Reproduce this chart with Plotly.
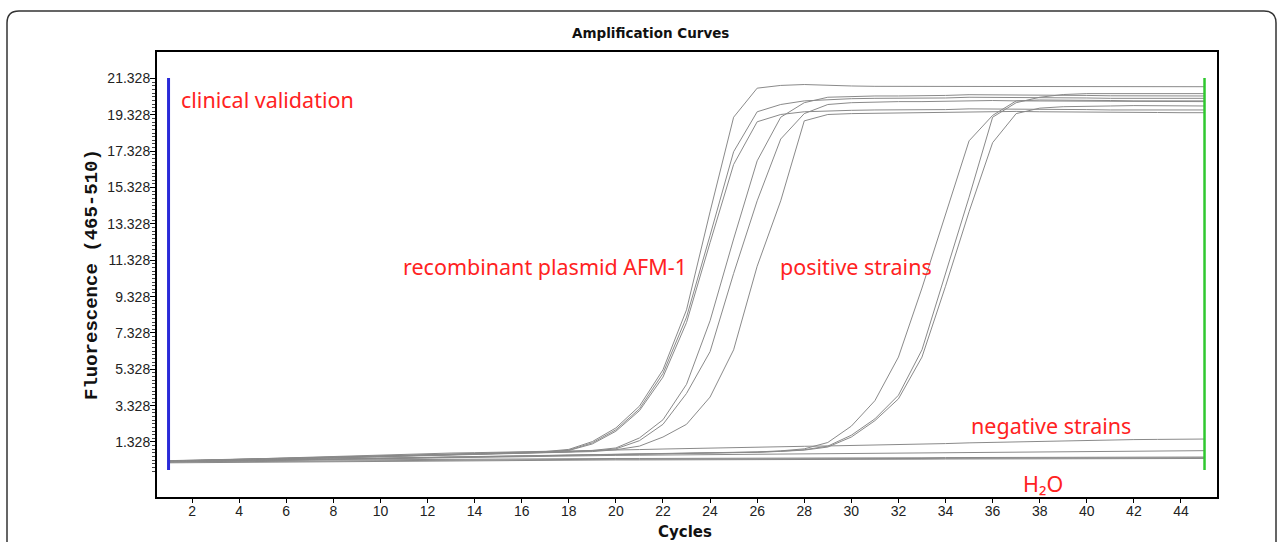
import plotly.graph_objects as go

cycles = list(range(1, 46))

# recombinant plasmid AFM-1 curves
curve_a = [0.30, 0.32, 0.35, 0.38, 0.41, 0.44, 0.47, 0.50, 0.53, 0.56, 0.59, 0.62, 0.65, 0.68, 0.71, 0.75, 0.80,
           0.92, 1.35, 2.10, 3.30, 5.30, 8.60, 14.00, 19.20, 20.80, 20.95, 21.00, 20.95, 20.92, 20.90, 20.90, 20.88,
           20.88, 20.92, 20.92, 20.90, 20.90, 20.88, 20.88, 20.90, 20.90, 20.88, 20.88, 20.88]
curve_b = [0.29, 0.31, 0.34, 0.37, 0.40, 0.43, 0.46, 0.49, 0.52, 0.55, 0.58, 0.61, 0.64, 0.67, 0.70, 0.73, 0.77,
           0.88, 1.28, 2.00, 3.15, 5.10, 8.20, 12.70, 17.30, 19.50, 19.90, 20.10, 20.18, 20.22, 20.24, 20.24, 20.24,
           20.26, 20.30, 20.30, 20.28, 20.28, 20.26, 20.26, 20.24, 20.24, 20.24, 20.24, 20.24]
curve_c = [0.28, 0.30, 0.33, 0.36, 0.39, 0.42, 0.45, 0.48, 0.51, 0.54, 0.57, 0.60, 0.63, 0.66, 0.69, 0.72, 0.76,
           0.86, 1.22, 1.92, 3.05, 4.90, 7.90, 12.30, 16.60, 18.95, 19.35, 19.50, 19.55, 19.58, 19.60, 19.60, 19.60,
           19.62, 19.66, 19.66, 19.64, 19.64, 19.62, 19.62, 19.60, 19.60, 19.60, 19.60, 19.60]
curve_d = [0.27, 0.29, 0.32, 0.35, 0.38, 0.41, 0.44, 0.47, 0.50, 0.53, 0.56, 0.59, 0.62, 0.65, 0.68, 0.71, 0.74,
           0.78, 0.86, 1.00, 1.55, 2.55, 4.50, 8.00, 12.50, 16.80, 19.20, 20.00, 20.30, 20.35, 20.37, 20.37, 20.37,
           20.40, 20.44, 20.44, 20.42, 20.42, 20.40, 20.40, 20.38, 20.38, 20.37, 20.37, 20.37]
curve_e = [0.26, 0.28, 0.31, 0.34, 0.37, 0.40, 0.43, 0.46, 0.49, 0.52, 0.55, 0.58, 0.61, 0.64, 0.67, 0.70, 0.73,
           0.77, 0.83, 0.95, 1.40, 2.30, 4.00, 6.30, 10.60, 14.60, 18.00, 19.40, 19.90, 20.00, 20.04, 20.06, 20.06,
           20.08, 20.12, 20.12, 20.10, 20.10, 20.08, 20.08, 20.06, 20.06, 20.06, 20.06, 20.06]
curve_f = [0.26, 0.28, 0.30, 0.33, 0.36, 0.39, 0.42, 0.45, 0.48, 0.51, 0.54, 0.57, 0.60, 0.63, 0.66, 0.69, 0.72,
           0.75, 0.80, 0.90, 1.10, 1.60, 2.30, 3.80, 6.40, 11.00, 14.60, 19.00, 19.35, 19.40, 19.42, 19.44, 19.45,
           19.45, 19.48, 19.52, 19.52, 19.50, 19.50, 19.48, 19.48, 19.46, 19.46, 19.45, 19.45]

# positive strains
pos_1 = [0.25, 0.27, 0.29, 0.31, 0.33, 0.35, 0.37, 0.39, 0.41, 0.43, 0.45, 0.47, 0.49, 0.51, 0.53, 0.55, 0.57,
         0.59, 0.61, 0.63, 0.65, 0.67, 0.69, 0.71, 0.74, 0.78, 0.84, 0.95, 1.30, 2.20, 3.60, 6.00, 9.80,
         13.80, 17.90, 19.30, 20.10, 20.15, 20.15, 20.12, 20.12, 20.10, 20.10, 20.10, 20.10]
pos_2 = [0.24, 0.26, 0.28, 0.30, 0.32, 0.34, 0.36, 0.38, 0.40, 0.42, 0.44, 0.46, 0.48, 0.50, 0.52, 0.54, 0.56,
         0.58, 0.60, 0.62, 0.64, 0.66, 0.68, 0.70, 0.73, 0.77, 0.82, 0.90, 1.10, 1.70, 2.60, 3.90, 6.40,
         10.60, 14.80, 19.20, 20.00, 20.30, 20.45, 20.50, 20.50, 20.52, 20.52, 20.50, 20.50]
pos_3 = [0.23, 0.25, 0.27, 0.29, 0.31, 0.33, 0.35, 0.37, 0.39, 0.41, 0.43, 0.45, 0.47, 0.49, 0.51, 0.53, 0.55,
         0.57, 0.59, 0.61, 0.63, 0.65, 0.67, 0.69, 0.72, 0.76, 0.81, 0.88, 1.05, 1.60, 2.50, 3.70, 6.00,
         9.90, 14.00, 17.80, 19.40, 19.70, 19.78, 19.82, 19.82, 19.84, 19.84, 19.82, 19.82]

# negative strains
neg_1 = [0.26, 0.30, 0.34, 0.38, 0.42, 0.46, 0.50, 0.54, 0.58, 0.62, 0.66, 0.70, 0.72, 0.74, 0.76, 0.78, 0.80,
         0.82, 0.85, 0.88, 0.91, 0.94, 0.97, 1.00, 1.03, 1.05, 1.07, 1.09, 1.11, 1.13, 1.15, 1.17, 1.20,
         1.24, 1.28, 1.31, 1.34, 1.37, 1.40, 1.42, 1.44, 1.46, 1.47, 1.48, 1.49]
neg_2 = [0.24, 0.26, 0.29, 0.31, 0.33, 0.35, 0.37, 0.39, 0.41, 0.43, 0.45, 0.46, 0.48, 0.50, 0.52, 0.54, 0.55,
         0.57, 0.58, 0.59, 0.60, 0.61, 0.62, 0.63, 0.64, 0.66, 0.67, 0.68, 0.69, 0.70, 0.71, 0.72, 0.73,
         0.74, 0.75, 0.77, 0.78, 0.79, 0.80, 0.80, 0.81, 0.82, 0.83, 0.84, 0.85]

# H2O / blank
h2o_1 = [0.22, 0.23, 0.25, 0.26, 0.27, 0.28, 0.29, 0.30, 0.31, 0.32, 0.33, 0.33, 0.34, 0.35, 0.35, 0.36, 0.36,
         0.37, 0.37, 0.38, 0.38, 0.38, 0.39, 0.39, 0.40, 0.40, 0.40, 0.41, 0.41, 0.41, 0.42, 0.42, 0.42,
         0.43, 0.43, 0.43, 0.44, 0.44, 0.44, 0.44, 0.45, 0.45, 0.45, 0.45, 0.46]
h2o_2 = [0.18, 0.19, 0.21, 0.22, 0.23, 0.24, 0.25, 0.26, 0.27, 0.28, 0.29, 0.29, 0.30, 0.31, 0.31, 0.32, 0.32,
         0.33, 0.33, 0.34, 0.34, 0.34, 0.35, 0.35, 0.36, 0.36, 0.36, 0.37, 0.37, 0.37, 0.38, 0.38, 0.38,
         0.39, 0.39, 0.39, 0.40, 0.40, 0.40, 0.40, 0.41, 0.41, 0.41, 0.41, 0.42]
h2o_3 = [0.25, 0.27, 0.29, 0.30, 0.31, 0.32, 0.33, 0.34, 0.35, 0.36, 0.37, 0.37, 0.38, 0.39, 0.39, 0.40, 0.40,
         0.41, 0.41, 0.42, 0.42, 0.42, 0.43, 0.43, 0.44, 0.44, 0.44, 0.45, 0.45, 0.45, 0.46, 0.46, 0.46,
         0.47, 0.47, 0.47, 0.48, 0.48, 0.48, 0.48, 0.49, 0.49, 0.49, 0.50, 0.50]

x_ticks = [2, 4, 6, 8, 10, 12, 14, 16, 18, 20, 22, 24, 26, 28, 30, 32, 34, 36, 38, 40, 42, 44]
y_tick_values = [1.328, 3.328, 5.328, 7.328, 9.328, 11.328, 13.328, 15.328, 17.328, 19.328, 21.328]
y_tick_labels = ["1.328", "3.328", "5.328", "7.328", "9.328", "11.328", "13.328", "15.328", "17.328",
                 "19.328", "21.328"]

label_texts = ["clinical validation", "recombinant plasmid AFM-1", "positive strains", "negative strains", "H\u2082O"]
label_x = [1.44, 10.87, 26.88, 34.99, 37.20]
label_y = [20.20, 11.01, 11.01, 2.21, -0.98]

all_curves = [curve_a, curve_b, curve_c, curve_d, curve_e, curve_f, pos_1, pos_2, pos_3,
              neg_1, neg_2, h2o_1, h2o_2, h2o_3]

fig = go.Figure()
for vals in all_curves:
    fig.add_trace(go.Scatter(x=cycles, y=vals, mode="lines",
                             line=dict(color="#8a8a8a", width=1),
                             showlegend=False, hoverinfo="skip"))

# pixel helpers for paper coordinates (plot area: x 157..1217, y 52..497)
def px(xp):
    return (xp - 157) / 1060.0

def py(yp):
    return (497 - yp) / 445.0

minor_vals = []
v = -0.272
while v < 21.2:
    if all(abs(v - t) > 0.01 for t in y_tick_values):
        minor_vals.append(round(v, 3))
    v += 0.2

tick_font = dict(family="Liberation Sans Narrow, Liberation Sans, Arial", size=14, color="#222222")

fig.update_layout(
    width=1282, height=542,
    margin=dict(l=157, r=65, t=52, b=45),
    paper_bgcolor="white", plot_bgcolor="white",
    xaxis=dict(range=[0.51, 45.53], tickmode="array", tickvals=x_ticks,
               ticks="outside", ticklen=4, tickcolor="black", ticklabelstandoff=-4,
               showline=True, linecolor="black", linewidth=2, mirror=True,
               showgrid=False, zeroline=False, tickfont=tick_font),
    yaxis=dict(range=[-1.70, 22.79], tickmode="array", tickvals=y_tick_values, ticktext=y_tick_labels,
               ticks="outside", ticklen=5, tickcolor="black", ticklabelstandoff=-3,
               minor=dict(tickmode="array", tickvals=minor_vals, ticks="outside", ticklen=3,
                          tickcolor="#444444", showgrid=False),
               showline=True, linecolor="black", linewidth=2, mirror=True,
               showgrid=False, zeroline=False, tickfont=tick_font),
)

# blue and green vertical markers
fig.add_shape(type="line", xref="x", yref="y", x0=1, x1=1, y0=-0.21, y1=21.36,
              line=dict(color="#2a2ad8", width=3))
fig.add_shape(type="line", xref="x", yref="y", x0=45, x1=45, y0=-0.21, y1=21.36,
              line=dict(color="#2fc82f", width=2.5))

# outer rounded frame
x0, x1, yt, yb = px(7), px(1276), py(11), py(570)
rx, ry = 12 / 1060.0, 12 / 445.0
path = (f"M {x0},{yb} L {x0},{yt - ry} Q {x0},{yt} {x0 + rx},{yt} "
        f"L {x1 - rx},{yt} Q {x1},{yt} {x1},{yt - ry} L {x1},{yb}")
fig.add_shape(type="path", xref="paper", yref="paper", path=path,
              line=dict(color="#333333", width=1.5))

# titles
fig.add_annotation(xref="paper", yref="paper", x=px(650), y=py(33), xanchor="center", yanchor="middle",
                   text="<b>Amplification Curves</b>", showarrow=False,
                   font=dict(family="DejaVu Sans, Liberation Sans", size=13.5, color="#111111"))
fig.add_annotation(xref="paper", yref="paper", x=px(685), y=py(532), xanchor="center", yanchor="middle",
                   text="<b>Cycles</b>", showarrow=False,
                   font=dict(family="DejaVu Sans, Liberation Sans", size=15, color="#111111"))
fig.add_annotation(xref="paper", yref="paper", x=px(92), y=py(275), xanchor="center", yanchor="middle",
                   textangle=-90, text="<b>Fluorescence (465-510)</b>", showarrow=False,
                   font=dict(family="Liberation Mono, DejaVu Sans Mono", size=19, color="#111111"))

for t, lx, ly in zip(label_texts, label_x, label_y):
    fig.add_annotation(xref="x", yref="y", x=lx, y=ly, text=t, showarrow=False,
                       xanchor="left", yanchor="middle",
                       font=dict(family="Noto Sans, Open Sans", size=21.5, color="#ff2222"))

fig.write_html("out.html", config={"displayModeBar": False},
               post_script="document.body.style.margin='0';document.body.style.overflow='hidden';")
